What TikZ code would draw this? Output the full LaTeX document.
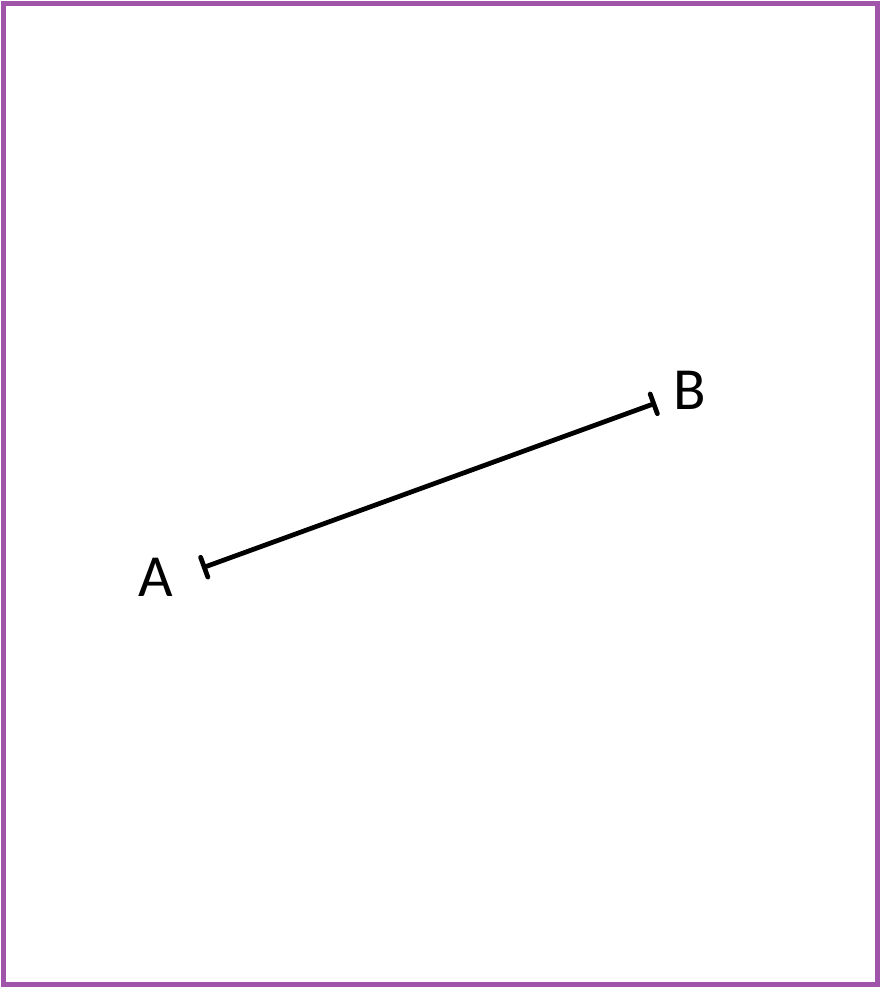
\documentclass[tikz,border=0pt]{standalone}
\usepackage{fontspec}
\setmainfont{Carlito}
\usetikzlibrary{positioning,arrows.meta}
\definecolor{frame}{RGB}{160,84,170}

\begin{document}
\begin{tikzpicture}[%
	x=0.02cm,
	y=-0.02cm,
	lbl/.style={%
		font=\fontsize{34}{40}\selectfont,
		inner sep=0pt
	},
	seg/.style={%
		line width=0.095cm,
		{Bar[width=0.42cm,line cap=round]}-{Bar[width=0.42cm,line cap=round]}
	}
	]

	\useasboundingbox (0,0) rectangle (884,992);
	\draw[frame,line width=0.09cm] (3.5,3.5) rectangle (877.5,984.5);

	\coordinate (pa) at (202,568);
	\coordinate (pb) at (656,403);
	\node[lbl] (a) at (156,577) {A};
	\node[lbl] (b) at (690,390) {B};
	\draw[seg] (pa) -- (pb);
\end{tikzpicture}
\end{document}
